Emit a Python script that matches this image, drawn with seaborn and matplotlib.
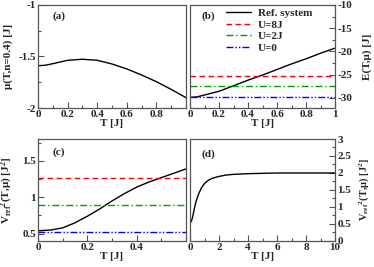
import numpy as np
import pandas as pd
import matplotlib
matplotlib.use('Agg')
import matplotlib.pyplot as plt
from matplotlib.ticker import MultipleLocator
import seaborn as sns

# data
# (a) chemical potential
T_a = [0.0, 0.05, 0.1, 0.2, 0.3, 0.4, 0.5, 0.6, 0.7, 0.8, 0.9, 1.0]
mu_a = [-1.590, -1.585, -1.570, -1.537, -1.527, -1.537, -1.573, -1.621, -1.680, -1.745, -1.820, -1.900]

# (b) energy
T_b = [0.0, 0.05, 0.1, 0.2, 0.3, 0.4, 0.5, 0.6, 0.7, 0.8, 0.9, 1.0]
E_b = [-29.90, -29.80, -29.40, -28.60, -27.40, -26.20, -25.10, -23.90, -22.70, -21.60, -20.40, -19.30]
E_lines = [-25.3, -27.5, -29.9]

# (c) / (d) variance
T_c = [0.0, 0.05, 0.1, 0.15, 0.2, 0.25, 0.3, 0.35, 0.4, 0.45, 0.5, 0.55, 0.6]
V_c = [0.54, 0.55, 0.58, 0.65, 0.74, 0.84, 0.95, 1.05, 1.14, 1.21, 1.27, 1.33, 1.39]
V_lines = [1.26, 0.90, 0.53]

T_d = [0.0, 0.1, 0.2, 0.3, 0.4, 0.5, 0.6, 0.8, 1.0, 1.25, 1.5, 2.0, 2.5, 3.0, 4.0, 5.0, 6.0, 8.0, 10.0]
V_d = [0.54, 0.58, 0.74, 0.95, 1.14, 1.27, 1.39, 1.57, 1.69, 1.78, 1.84, 1.90, 1.94, 1.96, 1.98, 1.99, 2.0, 2.0, 2.0]

line_labels = ['U=8J', 'U=2J', 'U=0']
line_colors = ['#ff0000', '#00a000', '#0000ff']
line_styles = [(0, (4, 2.5)), (0, (5, 2, 1, 2)), (0, (5, 1.5, 1, 1.5, 1, 1.5))]

sns.set_style('ticks')
plt.rcParams['font.family'] = ['Liberation Serif', 'DejaVu Serif']
plt.rcParams['font.weight'] = 'bold'
plt.rcParams['font.size'] = 8
plt.rcParams['mathtext.fontset'] = 'custom'
plt.rcParams['mathtext.rm'] = 'Liberation Serif:bold'
plt.rcParams['mathtext.it'] = 'Liberation Serif:bold'
plt.rcParams['mathtext.bf'] = 'Liberation Serif:bold'

fig = plt.figure(figsize=(3.74, 2.67), dpi=100)
ax_a = fig.add_axes([0.1016, 0.5955, 0.396, 0.386])
ax_b = fig.add_axes([0.508, 0.5955, 0.388, 0.386])
ax_c = fig.add_axes([0.1016, 0.0974, 0.396, 0.382])
ax_d = fig.add_axes([0.508, 0.0974, 0.388, 0.382])

# curves
sns.lineplot(x=T_a, y=mu_a, ax=ax_a, color='black', lw=1)
sns.lineplot(x=T_b, y=E_b, ax=ax_b, color='black', lw=1, label='Ref. system')
for val, lab, col, ls in zip(E_lines, line_labels, line_colors, line_styles):
    ax_b.axhline(val, color=col, ls=ls, lw=1, label=lab)
sns.lineplot(x=T_c, y=V_c, ax=ax_c, color='black', lw=1)
for val, col, ls in zip(V_lines, line_colors, line_styles):
    ax_c.axhline(val, color=col, ls=ls, lw=1)
sns.lineplot(x=T_d, y=V_d, ax=ax_d, color='black', lw=1)

# axis ranges and ticks
ax_a.set_xlim(0, 1)
ax_a.set_ylim(-2, -1)
ax_a.set_xticks([0, 0.2, 0.4, 0.6, 0.8])
ax_a.set_xticklabels(['0', '0.2', '0.4', '0.6', '0.8'])
ax_a.xaxis.set_minor_locator(MultipleLocator(0.1))
ax_a.set_yticks([-2, -1.5, -1])
ax_a.set_yticklabels(['-2', '-1.5', '-1'])
ax_a.yaxis.set_minor_locator(MultipleLocator(0.25))

ax_b.set_xlim(0, 1)
ax_b.set_ylim(-32.2, -10)
ax_b.set_xticks([0, 0.2, 0.4, 0.6, 0.8, 1])
ax_b.set_xticklabels(['0', '0.2', '0.4', '0.6', '0.8', '1'])
ax_b.xaxis.set_minor_locator(MultipleLocator(0.1))
ax_b.set_yticks([-30, -25, -20, -15, -10])
ax_b.set_yticklabels(['-30', '-25', '-20', '-15', '-10'])
ax_b.yaxis.set_minor_locator(MultipleLocator(2.5))

ax_c.set_xlim(0, 0.6)
ax_c.set_ylim(0.4, 1.8)
ax_c.set_xticks([0, 0.2, 0.4])
ax_c.set_xticklabels(['0', '0.2', '0.4'])
ax_c.xaxis.set_minor_locator(MultipleLocator(0.1))
ax_c.set_yticks([0.5, 1, 1.5])
ax_c.set_yticklabels(['0.5', '1', '1.5'])
ax_c.yaxis.set_minor_locator(MultipleLocator(0.25))

ax_d.set_xlim(0, 10)
ax_d.set_ylim(0, 3)
ax_d.set_xticks([0, 2, 4, 6, 8, 10])
ax_d.set_xticklabels(['0', '2', '4', '6', '8', '10'])
ax_d.xaxis.set_minor_locator(MultipleLocator(1))
ax_d.set_yticks([0, 0.5, 1, 1.5, 2, 2.5, 3])
ax_d.set_yticklabels(['0', '0.5', '1', '1.5', '2', '2.5', '3'])
ax_d.yaxis.set_minor_locator(MultipleLocator(0.25))

for ax in [ax_b, ax_d]:
    ax.yaxis.tick_right()
    ax.yaxis.set_label_position('right')

for ax in [ax_a, ax_b, ax_c, ax_d]:
    for sp in ax.spines.values():
        sp.set_visible(True)
        sp.set_color('#555555')
        sp.set_linewidth(0.9)
    ax.tick_params(which='major', direction='in', length=4, width=0.8, color='#555555', pad=1.5, labelsize=8)
    ax.tick_params(which='minor', direction='in', length=2, width=0.8, color='#555555')
    ax.set_xlabel('T [J]', fontsize=8, fontweight='bold', labelpad=0)

ax_a.set_ylabel('μ(T,n=0.4) [J]', fontsize=8, fontweight='bold')
ax_b.set_ylabel('E(T,μ) [J]', fontsize=8, fontweight='bold', rotation=90)
ax_c.set_ylabel(r'V$_{\rm ref}$$^{2}$(T,μ) [J$^{2}$]', fontsize=8, fontweight='bold')
ax_d.set_ylabel(r'V$_{\rm ref}$$^{2}$(T,μ) [J$^{2}$]', fontsize=7.5, fontweight='bold', rotation=90)
ax_a.yaxis.set_label_coords(-0.17, 0.5)
ax_c.yaxis.set_label_coords(-0.155, 0.5)
ax_b.yaxis.set_label_coords(1.185, 0.5)
ax_d.yaxis.set_label_coords(1.15, 0.5)

# panel labels
ax_a.text(0.1, 0.89, '(a)', transform=ax_a.transAxes, fontsize=8, fontweight='bold', va='center')
ax_b.text(0.08, 0.89, '(b)', transform=ax_b.transAxes, fontsize=8, fontweight='bold', va='center')
ax_c.text(0.1, 0.87, '(c)', transform=ax_c.transAxes, fontsize=8, fontweight='bold', va='center')
ax_d.text(0.08, 0.85, '(d)', transform=ax_d.transAxes, fontsize=8, fontweight='bold', va='center')

ax_b.legend(loc='upper left', bbox_to_anchor=(0.2, 1.03), frameon=False, fontsize=8,
            handlelength=2.3, handletextpad=0.6, labelspacing=0.15, borderaxespad=0.2)

fig.savefig('out.png', dpi=100)
